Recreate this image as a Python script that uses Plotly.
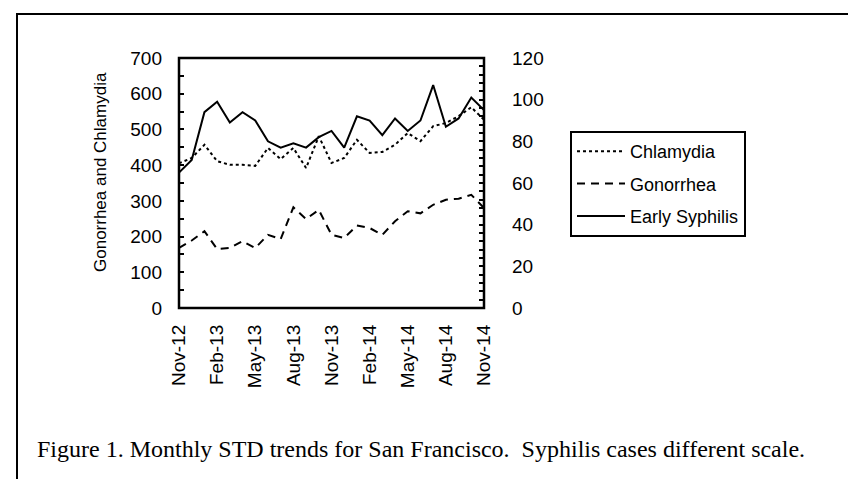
import plotly.graph_objects as go

months = ["Nov-12", "Dec-12", "Jan-13", "Feb-13", "Mar-13", "Apr-13", "May-13",
          "Jun-13", "Jul-13", "Aug-13", "Sep-13", "Oct-13", "Nov-13", "Dec-13",
          "Jan-14", "Feb-14", "Mar-14", "Apr-14", "May-14", "Jun-14", "Jul-14",
          "Aug-14", "Sep-14", "Oct-14", "Nov-14"]
tick_labels = ["Nov-12", "Feb-13", "May-13", "Aug-13", "Nov-13",
               "Feb-14", "May-14", "Aug-14", "Nov-14"]
chlamydia = [405, 420, 457, 411, 401, 401, 398, 448, 417, 448, 392, 481, 406,
             420, 471, 434, 437, 457, 490, 467, 509, 518, 537, 562, 527]
gonorrhea = [168, 189, 215, 165, 168, 187, 168, 205, 193, 282, 249, 275, 205,
             196, 231, 224, 205, 243, 271, 265, 289, 303, 306, 317, 280]
syphilis = [65, 71, 94, 99, 89, 94, 90, 80, 77, 79, 77, 82, 85,
            77, 92, 90, 83, 91, 85, 90, 107, 87, 91, 101, 95]
left_title = "Gonorrhea and Chlamydia"
caption = "Figure 1. Monthly STD trends for San Francisco.  Syphilis cases different scale."

W, H = 856, 479
L, R, T, B = 171, 476, 50, 300  # plot area in px
pw, ph = R - L, B - T


def px(x):
    return (x - L) / pw


def py(y):
    return (B - y) / ph


fig = go.Figure()
fig.add_trace(go.Scatter(x=months, y=chlamydia, name="Chlamydia", mode="lines",
                         legendgroup="c",
                         line=dict(color="black", width=2, dash="dot")))
fig.add_trace(go.Scatter(x=months, y=gonorrhea, name="Gonorrhea", mode="lines",
                         legendgroup="g",
                         line=dict(color="black", width=2, dash="8px,6px")))
fig.add_trace(go.Scatter(x=months, y=syphilis, name="Early Syphilis", mode="lines",
                         legendgroup="s", yaxis="y2",
                         line=dict(color="black", width=2)))

sans = "Liberation Sans, Arial, sans-serif"
fig.update_layout(
    width=W, height=H,
    margin=dict(l=L, r=W - R, t=T, b=H - B, autoexpand=False),
    paper_bgcolor="white", plot_bgcolor="white",
    font=dict(family=sans, size=19, color="black"),
    showlegend=True,
    legend=dict(x=px(562), xanchor="left", y=py(123), yanchor="top",
                bordercolor="black", borderwidth=2, bgcolor="white",
                font=dict(family=sans, size=18, color="black"),
                tracegroupgap=6, itemwidth=48),
    xaxis=dict(type="category", range=[0, 24], tickmode="array",
               tickvals=tick_labels, ticktext=tick_labels, tickangle=-90,
               showgrid=False, zeroline=False, ticks="",
               showline=False,
               ticklabelstandoff=12, tickfont=dict(size=19)),
    yaxis=dict(range=[0, 700], dtick=100, tick0=0, showgrid=False, zeroline=False,
               ticks="inside", ticklen=5, tickwidth=1.5, tickcolor="black",
               minor=dict(dtick=50, ticks="inside", ticklen=5, tickwidth=1.5,
                          tickcolor="black", showgrid=False),
               showline=False,
               ticklabelstandoff=16, tickfont=dict(size=19)),
    yaxis2=dict(range=[0, 120], dtick=20, tick0=0, overlaying="y", side="right",
                showgrid=False, zeroline=False,
                ticks="inside", ticklen=5, tickwidth=1.5, tickcolor="black",
                minor=dict(dtick=4, ticks="inside", ticklen=5, tickwidth=1.5,
                           tickcolor="black", showgrid=False),
                showline=False,
                ticklabelstandoff=27, tickfont=dict(size=19)),
    shapes=[
        dict(type="rect", xref="paper", yref="paper",
             x0=px(9), x1=px(849), y0=py(477), y1=py(6),
             line=dict(color="black", width=2), layer="below"),
        dict(type="rect", xref="paper", yref="paper",
             x0=0, x1=1, y0=0, y1=1,
             line=dict(color="black", width=2.5), layer="above"),
    ],
    annotations=[
        dict(text=caption, xref="paper", yref="paper",
             x=px(27), y=py(441), xanchor="left", yanchor="middle",
             showarrow=False,
             font=dict(family="Liberation Serif, Times New Roman, serif",
                       size=24, color="black")),
        dict(text=left_title, xref="paper", yref="paper",
             x=px(92), y=py(164), xanchor="center", yanchor="middle",
             textangle=-90, showarrow=False,
             font=dict(family=sans, size=17, color="black")),
    ],
)

fig.write_html("out.html")
